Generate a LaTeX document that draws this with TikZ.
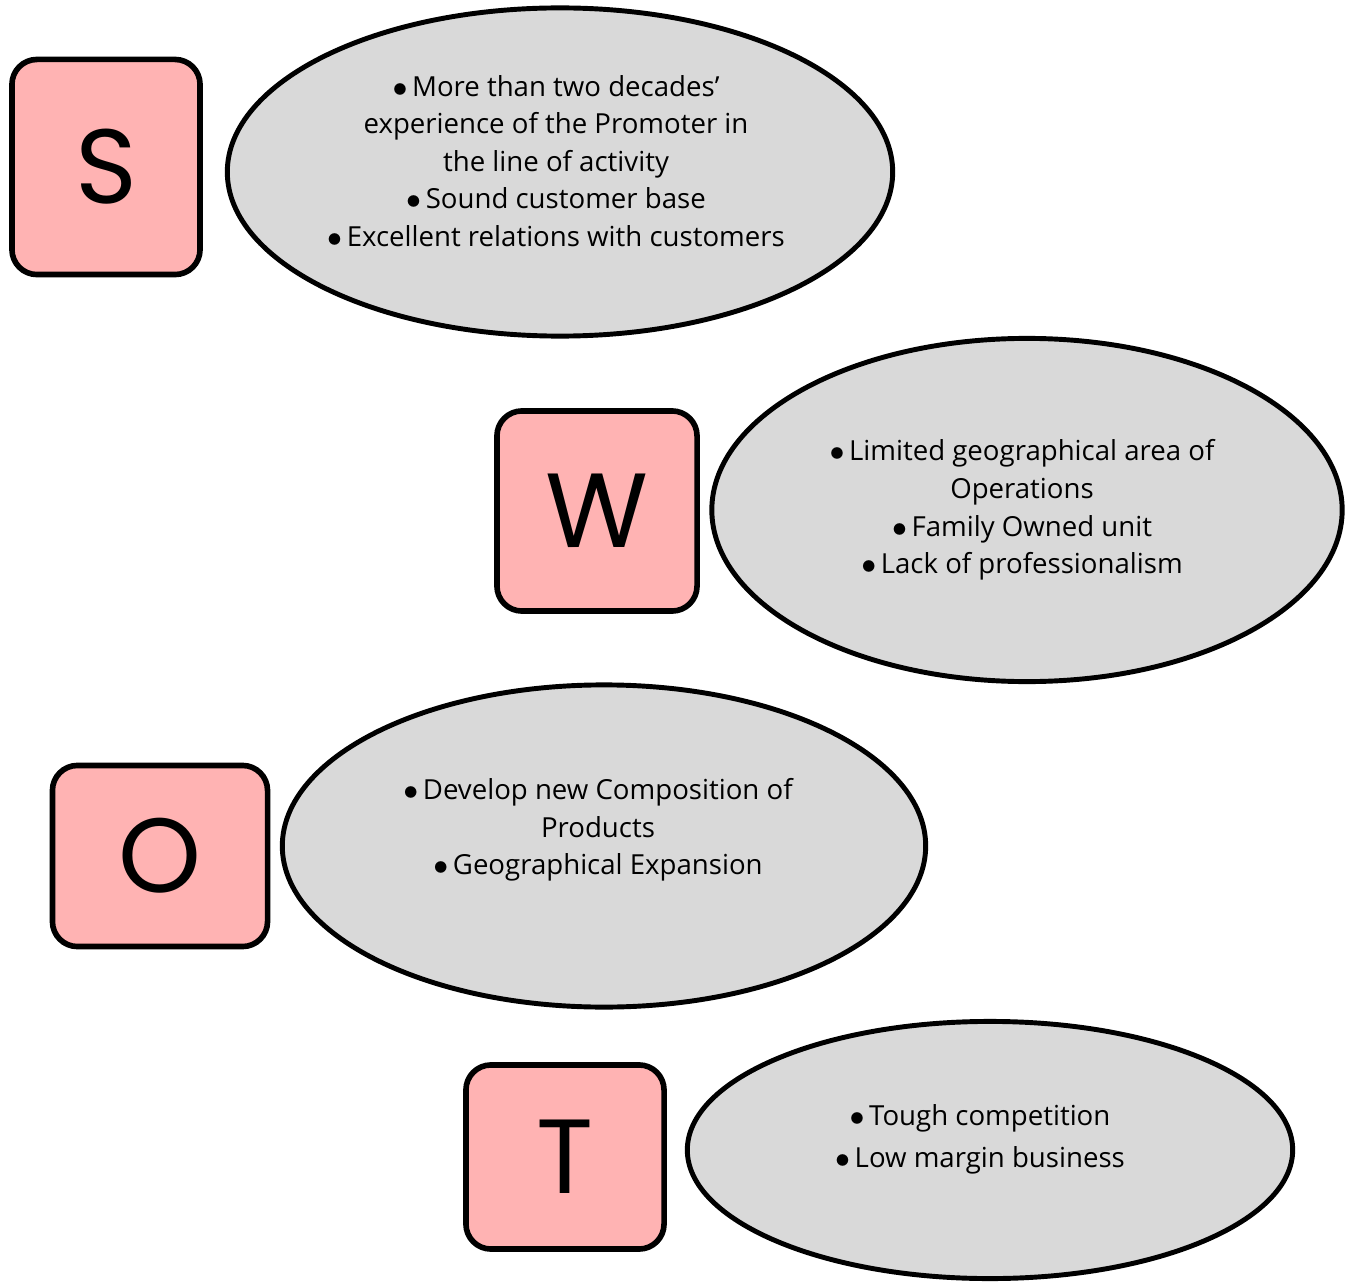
\documentclass[tikz,border=0pt]{standalone}
\usepackage{fontspec}
\setmainfont{Open Sans}
\newfontfamily\letterfont{Poppins}
\usetikzlibrary{shapes.geometric}
\definecolor{swotpink}{HTML}{FFB3B3}
\definecolor{swotgrey}{HTML}{D9D9D9}
\newcommand{\blt}{$\bullet$\,}

\begin{document}
\begin{tikzpicture}[x=0.01cm, y=-0.01cm,
    letter/.style={rectangle, draw, line width=1.6pt, rounded corners=0.25cm, fill=swotpink, font=\letterfont\fontsize{30}{30}\selectfont},
    blob/.style={ellipse, draw, line width=1.4pt, fill=swotgrey, inner sep=0pt},
    txt/.style={align=center, font=\fontsize{7.85}{10.7}\selectfont}]
  \useasboundingbox (0,0) rectangle (1345,1282);
  % strengths
  \node (bS) at (106,167) [letter, minimum width=1.88cm, minimum height=2.15cm] {S};
  \node (eS) at (560,172) [blob, minimum width=6.65cm, minimum height=3.28cm] {};
  \node (tS) at (556,161) [txt] {\blt More than two decades’\\experience of the Promoter in\\the line of activity\\\blt Sound customer base\\\blt Excellent relations with customers};
  % weaknesses
  \node (bW) at (597,511) [letter, minimum width=2.0cm, minimum height=2.0cm] {W};
  \node (eW) at (1027,510) [blob, minimum width=6.30cm, minimum height=3.43cm] {};
  \node (tW) at (1022,510) [txt] {\blt Limited geographical area of\\Operations\\\blt Family Owned unit\\\blt Lack of professionalism};
  % opportunities
  \node (bO) at (160,856) [letter, minimum width=2.15cm, minimum height=1.81cm] {O};
  \node (eO) at (604,846) [blob, minimum width=6.43cm, minimum height=3.22cm] {};
  \node (tO) at (598,830) [txt] {\blt Develop new Composition of\\Products\\\blt Geographical Expansion};
  % threats
  \node (bT) at (565,1157) [letter, minimum width=1.98cm, minimum height=1.84cm] {T};
  \node (eT) at (990,1150) [blob, minimum width=6.05cm, minimum height=2.57cm] {};
  \node (tT) at (980,1139) [txt] {\blt Tough competition\\[1.3pt]\blt Low margin business};
\end{tikzpicture}
\end{document}
